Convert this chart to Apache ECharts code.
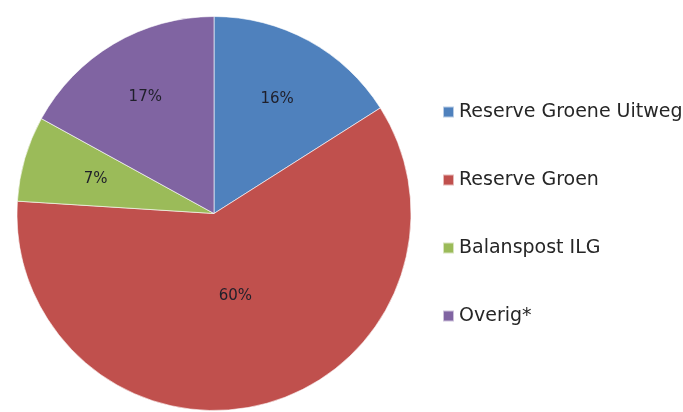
<!DOCTYPE html>
<html>
<head>
<meta charset="utf-8">
<script src="https://cdn.jsdelivr.net/npm/echarts@6/dist/echarts.min.js"></script>
<style>html,body{margin:0;padding:0;background:#fff}#c{width:683px;height:412px}</style>
</head>
<body>
<div id="c"></div>
<script>
const categories = ['Reserve Groene Uitweg', 'Reserve Groen', 'Balanspost ILG', 'Overig*'];
const values = [16, 60, 7, 17];
const colors = ['#4F81BD', '#C0504D', '#9BBB59', '#8064A2'];
// relative radial position of each percentage label (fraction of radius)
const labelRadius = [0.65, 0.42, 0.61, 0.67];

const R = 197;
const center = [214, 213.5];

const mainData = categories.map((n, i) => ({ name: n, value: values[i], itemStyle: { color: colors[i] } }));

const groups = [...new Set(labelRadius)];
const labelSeries = groups.map(f => ({
  type: 'pie',
  silent: true,
  center: center,
  radius: [0, 2 * f * R],
  startAngle: 90,
  percentPrecision: 0,
  legendHoverLink: false,
  itemStyle: { color: 'transparent', borderWidth: 0 },
  labelLine: { show: false },
  emphasis: { disabled: true },
  animation: false,
  data: categories.map((n, i) => ({
    name: n + ' ',
    value: values[i],
    label: {
      show: labelRadius[i] === f,
      position: 'inside',
      formatter: '{d}%',
      color: '#1f1f2a',
      fontSize: 15,
      fontFamily: 'DejaVu Sans'
    }
  }))
}));

const chart = echarts.init(document.getElementById('c'));
chart.setOption({
  backgroundColor: '#fff',
  animation: false,
  legend: {
    orient: 'vertical',
    left: 437,
    top: 97,
    icon: 'rect',
    itemWidth: 11,
    itemHeight: 11,
    itemGap: 48,
    data: categories,
    textStyle: { fontSize: 19, lineHeight: 20, fontFamily: 'DejaVu Sans', color: '#262626' }
  },
  series: [{
    type: 'pie',
    center: center,
    radius: [0, R],
    startAngle: 90,
    clockwise: true,
    label: { show: false },
    labelLine: { show: false },
    itemStyle: { borderColor: 'rgba(255,255,255,0.6)', borderWidth: 1 },
    emphasis: { disabled: true },
    data: mainData
  }].concat(labelSeries)
});
</script>
</body>
</html>
